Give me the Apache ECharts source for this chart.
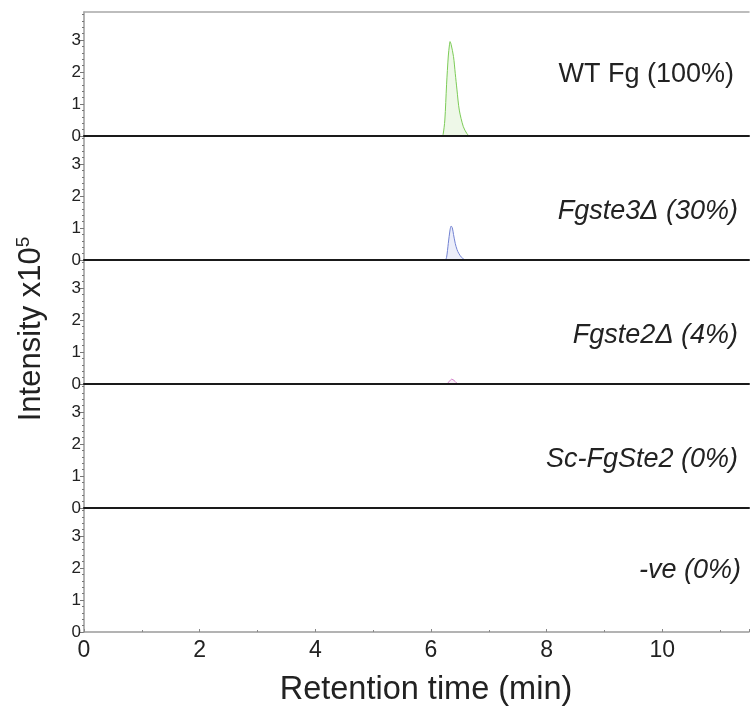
<!DOCTYPE html>
<html><head><meta charset="utf-8">
<script src="https://cdn.jsdelivr.net/npm/echarts@6/dist/echarts.min.js"></script>
<style>html,body{margin:0;padding:0;background:#fff}#c{width:750px;height:707px}</style>
</head><body><div id="c"></div>
<script>
// ---- data ----
const sampleLabels = ['WT Fg (100%)', 'Fgste3Δ (30%)', 'Fgste2Δ (4%)', 'Sc-FgSte2 (0%)', '-ve (0%)'];
const labelItalic = [false, true, true, true, true];
const xTicks = [0, 2, 4, 6, 8, 10];
const yTicks = [0, 1, 2, 3];

const wtTime      = [6.19, 6.21, 6.24, 6.27, 6.30, 6.32, 6.33, 6.35, 6.39, 6.42, 6.45, 6.49, 6.56, 6.62, 6.66];
const wtIntensity = [0,    0.05, 0.5,  1.6,  2.5,  2.85, 2.95, 2.85, 2.48, 1.96, 1.44, 0.81, 0.29, 0.08, 0];

const ste3Time      = [6.25, 6.27, 6.30, 6.33, 6.35, 6.37, 6.39, 6.42, 6.45, 6.48, 6.53, 6.59];
const ste3Intensity = [0,    0.08, 0.52, 0.94, 1.06, 1.0,  0.8,  0.52, 0.33, 0.21, 0.08, 0];

const ste2Time      = [6.28, 6.32, 6.36, 6.40, 6.44, 6.47];
const ste2Intensity = [0,    0.09, 0.15, 0.11, 0.04, 0];

const seriesTimes = [wtTime, ste3Time, ste2Time, [], []];
const seriesValues = [wtIntensity, ste3Intensity, ste2Intensity, [], []];
const lineColors = ['#7ccb57', '#7282d2', '#d27fc9', '#888', '#888'];
const fillColors = ['#eef8e8', '#eceefa', '#f8eef7', '#fff', '#fff'];

// ---- layout ----
const N = 5, TOP = 12, H = 124, LEFT = 84, W = 665;
const XMAX = 11.5, YMAX = 3.875;
const FONT = 'Liberation Sans, Arial, sans-serif';

const grids = [], xAxes = [], yAxes = [], series = [], graphics = [];
for (let i = 0; i < N; i++) {
  const last = i === N - 1;
  grids.push({ left: LEFT, width: W, top: TOP + H * i, height: H });
  xAxes.push({
    gridIndex: i, type: 'value', min: 0, max: XMAX, interval: 2,
    axisLine: { show: true, onZero: false, lineStyle: { color: last ? '#9a9a9a' : '#1a1a1a', width: last ? 1.5 : 2 } },
    axisTick: { show: last, inside: true, length: 3, lineStyle: { color: '#888' } },
    minorTick: { show: last, splitNumber: 2, length: 2, lineStyle: { color: '#888' } },
    axisLabel: { show: last, fontSize: 23, color: '#222', margin: 7, fontFamily: FONT, customValues: xTicks },
    splitLine: { show: false }, z: 5
  });
  yAxes.push({
    gridIndex: i, type: 'value', min: 0, max: YMAX, interval: 1,
    axisLine: { show: true, lineStyle: { color: '#9a9a9a', width: 1.5 } },
    axisTick: { show: true, length: 4, lineStyle: { color: '#777' }, customValues: yTicks },
    minorTick: { show: true, splitNumber: 5, length: 2, lineStyle: { color: '#777' } },
    axisLabel: { fontSize: 17, color: '#222', margin: 3, fontFamily: FONT, customValues: yTicks },
    splitLine: { show: false }
  });
  const d = seriesTimes[i].map((t, k) => [t, seriesValues[i][k]]);
  series.push({
    type: 'line', xAxisIndex: i, yAxisIndex: i, data: d, showSymbol: false, smooth: 0.3,
    lineStyle: { color: lineColors[i], width: 1 },
    areaStyle: { color: fillColors[i], opacity: 1 },
    silent: true, animation: false
  });
}
// top border
xAxes.push({
  gridIndex: 0, type: 'value', position: 'top', min: 0, max: XMAX,
  axisLine: { show: true, onZero: false, lineStyle: { color: '#a8a8a8', width: 1.5 } },
  axisTick: { show: false }, axisLabel: { show: false }, splitLine: { show: false }
});

const labelY = [75, 211, 335, 459, 570];
const labelRight = [734, 738, 738, 738, 741];
sampleLabels.forEach((s, i) => {
  graphics.push({
    type: 'text', x: labelRight[i], y: labelY[i],
    style: { text: s, align: 'right', verticalAlign: 'middle', fontSize: 27,
      fontStyle: labelItalic[i] ? 'italic' : 'normal', fontFamily: FONT, fill: '#222' }
  });
});
graphics.push({
  type: 'text', x: 426, y: 690,
  style: { text: 'Retention time (min)', align: 'center', verticalAlign: 'middle', fontSize: 32.5, fontFamily: FONT, fill: '#222' }
});
graphics.push({
  type: 'text', x: 31, y: 329, rotation: Math.PI / 2,
  style: {
    text: '{a|Intensity x10}{s|5}', align: 'center', verticalAlign: 'middle', fill: '#222',
    rich: {
      a: { fontSize: 31, fontFamily: FONT, fill: '#222', lineHeight: 34 },
      s: { fontSize: 19, fontFamily: FONT, fill: '#222', verticalAlign: 'top', lineHeight: 34 }
    }
  }
});

const chart = echarts.init(document.getElementById('c'), null, { renderer: 'canvas' });
chart.setOption({
  animation: false,
  backgroundColor: '#fff',
  grid: grids, xAxis: xAxes, yAxis: yAxes, series: series, graphic: graphics
});
</script></body></html>
